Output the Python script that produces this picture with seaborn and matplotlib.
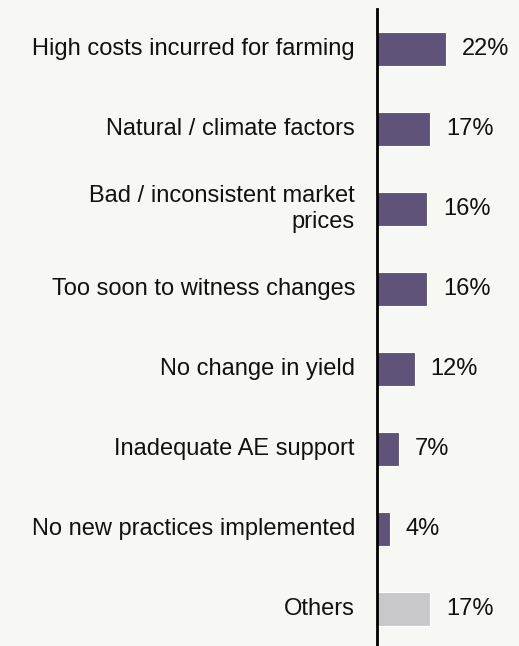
import matplotlib
matplotlib.use("Agg")
import matplotlib.pyplot as plt
import seaborn as sns
import pandas as pd

categories = [
    "High costs incurred for farming",
    "Natural / climate factors",
    "Bad / inconsistent market\nprices",
    "Too soon to witness changes",
    "No change in yield",
    "Inadequate AE support",
    "No new practices implemented",
    "Others",
]
values = [22, 17, 16, 16, 12, 7, 4, 17]
bar_colors = ["#5e4d80"] * 7 + ["#c8c8ca"]

sns.set_theme(style="white")
plt.rcParams["font.family"] = ["Liberation Sans", "DejaVu Sans"]

bg = "#f7f7f3"
W, H = 519, 646
fig = plt.figure(figsize=(W / 100, H / 100), dpi=100, facecolor=bg)
ax_left = 377 / W
ax_right = (377 + 30 * 3.13) / W
ax = fig.add_axes([ax_left, 0, ax_right - ax_left, (H - 9) / H])
ax.set_facecolor(bg)

df = pd.DataFrame({"category": categories, "value": values})
sns.barplot(data=df, x="value", y="category", hue="category", palette=bar_colors,
            legend=False, width=0.42, edgecolor="white", linewidth=0.8, ax=ax, orient="h")

ax.set_xlim(0, 30)
ax.set_ylim(7.5 - 3 / 80, -0.5)
ax.set_xlabel("")
ax.set_ylabel("")
ax.set_xticks([])
ax.set_yticks([])
for side in ["top", "right", "bottom"]:
    ax.spines[side].set_visible(False)
ax.spines["left"].set_color("black")
ax.spines["left"].set_linewidth(2)
ax.patch.set_alpha(0)

fs = 17
for i, (cat, v) in enumerate(zip(categories, values)):
    ax.annotate(f"{v}%", xy=(v, i), xytext=(16, 0), textcoords="offset pixels",
                ha="left", va="center", fontsize=fs, color="#111111")
    ax.annotate(cat, xy=(0, i), xytext=(-22, 0), textcoords="offset pixels",
                ha="right", va="center", fontsize=fs, color="#111111",
                linespacing=1.27, annotation_clip=False)

fig.savefig("out.png", dpi=100, facecolor=bg)
